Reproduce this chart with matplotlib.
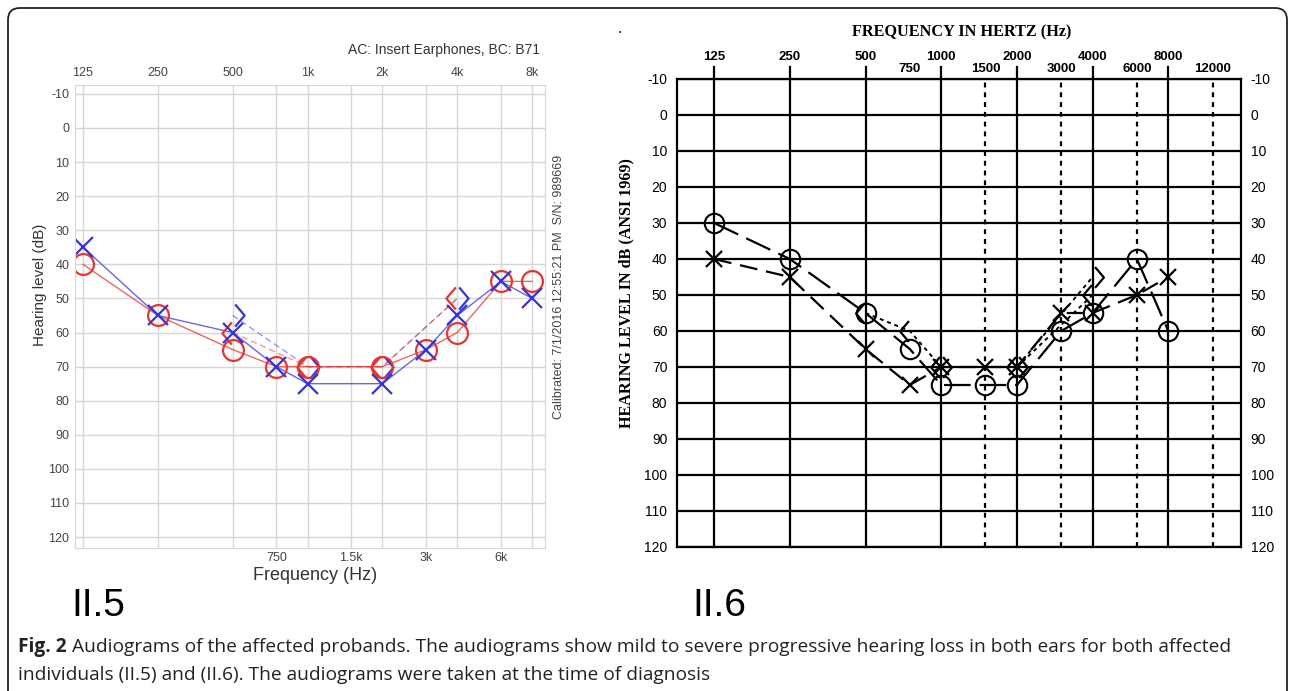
import matplotlib.pyplot as plt
from matplotlib.patches import FancyBboxPatch
from matplotlib.path import Path
from matplotlib.ticker import NullLocator

plt.rcParams["font.family"] = ["Liberation Sans", "DejaVu Sans"]
plt.rcParams["axes.unicode_minus"] = False

W, H = 1290, 691

# II.5 audiogram (left panel)
freqs_a = [125, 250, 500, 750, 1000, 2000, 3000, 4000, 6000, 8000]
left_ac_a = [35, 55, 60, 70, 75, 75, 65, 55, 45, 50]
right_ac_a = [40, 55, 65, 70, 70, 70, 65, 60, 45, 45]
bc_freqs_a = [500, 1000, 2000, 4000]
left_bc_a = [55, 70, 70, 50]
right_bc_a = [60, 70, 70, 50]
octaves_a = [125, 250, 500, 1000, 2000, 4000, 8000]
octave_labels_a = ["125", "250", "500", "1k", "2k", "4k", "8k"]
halves_a = [750, 1500, 3000, 6000]
half_labels_a = ["750", "1.5k", "3k", "6k"]

# II.6 audiogram (right panel)
freqs_b = [125, 250, 500, 750, 1000, 1500, 2000, 3000, 4000, 6000, 8000]
right_ac_b = [30, 40, 55, 65, 75, 75, 75, 60, 55, 40, 60]
left_ac_b = [40, 45, 65, 75, 70, 70, 70, 55, 55, 50, 45]
right_bc_freqs_b = [500, 750, 1000, 2000, 4000]
right_bc_b = [55, 60, 70, 70, 50]
left_bc_freqs_b = [1000, 2000, 4000]
left_bc_b = [70, 70, 45]
octaves_b = [125, 250, 500, 1000, 2000, 4000, 8000]
octave_labels_b = ["125", "250", "500", "1000", "2000", "4000", "8000"]
halves_b = [750, 1500, 3000, 6000, 12000]
half_labels_b = ["750", "1500", "3000", "6000", "12000"]
dotted_b = [1500, 3000, 6000, 12000]

levels = list(range(-10, 130, 10))

BLUE = "#3434d8"
RED = "#e6352e"

# bone conduction brackets, drawn beside the frequency line
bc_right = Path([(-0.15, 1), (-1, 0), (-0.15, -1)], [Path.MOVETO, Path.LINETO, Path.LINETO])
bc_left = Path([(0.15, 1), (1, 0), (0.15, -1)], [Path.MOVETO, Path.LINETO, Path.LINETO])


def box(x0, y0, x1, y1):
    return [x0 / W, 1 - y1 / H, (x1 - x0) / W, (y1 - y0) / H]


fig = plt.figure(figsize=(W / 100, H / 100), dpi=100)
fig.patch.set_facecolor("white")

bg = fig.add_axes([0, 0, 1, 1], zorder=-1)
bg.set_xlim(0, W)
bg.set_ylim(H, 0)
bg.axis("off")
bg.add_patch(FancyBboxPatch((8, 8), 1279, 700, boxstyle="round,pad=0,rounding_size=12",
                            fc="white", ec="#222222", lw=1.3, clip_on=False))

# ---------------- II.5 ----------------
ax = fig.add_axes(box(75, 85, 545, 548))
ax.set_xscale("log", base=2)
ax.set_xlim(116.1, 9014)
ax.set_ylim(123.2, -12.6)
ax.set_xticks(octaves_a, octave_labels_a)
ax.set_xticks(halves_a, minor=True)
ax.set_xticklabels([], minor=True)
ax.set_yticks(levels)
ax.tick_params(axis="x", which="both", top=True, bottom=False, labeltop=True, labelbottom=False,
               length=0, pad=4, labelsize=9, labelcolor="#444444")
ax.tick_params(axis="y", length=0, pad=4, labelsize=9, labelcolor="#444444")
ax.grid(True, which="both", color="#d6d6d6", lw=1)
for s in ax.spines.values():
    s.set_color("#d6d6d6")
sec = ax.secondary_xaxis("bottom")
sec.set_xticks(halves_a, half_labels_a)
sec.xaxis.set_minor_locator(NullLocator())
sec.tick_params(which="both", length=0, pad=3, labelsize=9, labelcolor="#444444")
sec.spines["bottom"].set_visible(False)

ax.plot(bc_freqs_a, left_bc_a, color=BLUE, lw=0.9, ls=(0, (5, 3)), alpha=0.55)
ax.plot(bc_freqs_a, right_bc_a, color=RED, lw=0.9, ls=(0, (5, 3)), alpha=0.55)
ax.plot(freqs_a, right_ac_a, color=RED, lw=1.0, alpha=0.75)
ax.plot(freqs_a, left_ac_a, color=BLUE, lw=1.0, alpha=0.75)
ax.plot(bc_freqs_a, left_bc_a, ls="none", marker=bc_left, ms=16, mec=BLUE, mfc="none", mew=1.6)
ax.plot(bc_freqs_a, right_bc_a, ls="none", marker=bc_right, ms=16, mec=RED, mfc="none", mew=1.6)
ax.plot(freqs_a, right_ac_a, ls="none", marker="o", ms=15, mec=RED, mfc="none", mew=1.6)
ax.plot(freqs_a, left_ac_a, ls="none", marker="x", ms=15, mec=BLUE, mew=1.6)

bg.text(540, 50, "AC: Insert Earphones, BC: B71", ha="right", va="center", fontsize=10,
        color="#333333")
bg.text(40, 285, "Hearing level (dB)", rotation=90, ha="center", va="center", fontsize=11,
        color="#333333")
bg.text(315, 576, "Frequency (Hz)", ha="center", va="center", fontsize=13, color="#333333")
bg.text(559, 287, "Calibrated: 7/1/2016 12:55:21 PM  S/N: 989669", rotation=90, ha="center",
        va="center", fontsize=9, color="#444444")
bg.text(71, 606, "II.5", ha="left", va="center", fontsize=28)

# ---------------- II.6 ----------------
bx = fig.add_axes(box(677, 79, 1241, 547))
bx.set_xscale("log", base=2)
bx.set_xlim(89.0, 15565)
bx.set_ylim(120, -10)
bx.set_yticks(levels)
bx.set_xticks(octaves_b, octave_labels_b)
bx.set_xticks(halves_b, half_labels_b, minor=True)
bx.tick_params(axis="x", which="both", top=True, bottom=False, labeltop=True, labelbottom=False,
               length=0, labelsize=9.5)
bx.tick_params(axis="x", which="major", pad=11.5)
bx.tick_params(axis="x", which="minor", pad=3)
for lab in bx.get_xticklabels(which="both"):
    lab.set_fontweight("bold")
bx.tick_params(axis="y", left=True, right=True, labelleft=True, labelright=True, length=0,
               pad=7, labelsize=10)
for s in bx.spines.values():
    s.set_linewidth(1.6)
for lv in levels:
    bx.axhline(lv, color="black", lw=1.6, zorder=1)
for f in octaves_b:
    bx.axvline(f, ymin=0, ymax=1.026, color="black", lw=1.6, clip_on=False, zorder=1)
for f in dotted_b:
    bx.axvline(f, color="black", lw=1.6, ls=(0, (2.2, 2.2)), zorder=1)

bx.plot(freqs_b, right_ac_b, color="black", lw=1.6, ls=(0, (12, 4)), zorder=3)
bx.plot(freqs_b, left_ac_b, color="black", lw=1.6, ls=(0, (8, 4)), zorder=3)
bx.plot(right_bc_freqs_b, right_bc_b, color="black", lw=1.4, ls=(0, (2, 2)), zorder=3)
bx.plot(left_bc_freqs_b, left_bc_b, color="black", lw=1.4, ls=(0, (2, 2)), zorder=3)
bx.plot(freqs_b, right_ac_b, ls="none", marker="o", ms=14, mec="black", mfc="none", mew=1.5, zorder=4)
bx.plot(freqs_b, left_ac_b, ls="none", marker="x", ms=12, mec="black", mew=1.6, zorder=4)
bx.plot(right_bc_freqs_b, right_bc_b, ls="none", marker=bc_right, ms=15, mec="black", mfc="none",
        mew=1.6, zorder=4)
bx.plot(left_bc_freqs_b, left_bc_b, ls="none", marker=bc_left, ms=15, mec="black", mfc="none",
        mew=1.6, zorder=4)

bg.text(962, 32, "FREQUENCY IN HERTZ (Hz)", ha="center", va="center", fontsize=11.7,
        weight="bold", family="Liberation Serif")
bg.text(626, 293, "HEARING LEVEL IN dB (ANSI 1969)", rotation=90, ha="center", va="center",
        fontsize=11.6, weight="bold", family="Liberation Serif")
bg.text(620, 32, "\u2022", ha="center", va="center", fontsize=5)
bg.text(692, 606, "II.6", ha="left", va="center", fontsize=28)

# ---------------- caption ----------------
fig.canvas.draw()
r = fig.canvas.get_renderer()
fig_lbl = bg.text(18, 647, "Fig. 2", ha="left", va="center", fontsize=13.8, weight="bold",
                  family="Open Sans", color="#222222")
wpx = fig_lbl.get_window_extent(r).width
bg.text(18 + wpx + 5, 647,
        "Audiograms of the affected probands. The audiograms show mild to severe progressive "
        "hearing loss in both ears for both affected",
        ha="left", va="center", fontsize=13.8, family="Open Sans", color="#222222")
bg.text(18, 675, "individuals (II.5) and (II.6). The audiograms were taken at the time of diagnosis",
        ha="left", va="center", fontsize=13.8, family="Open Sans", color="#222222")

fig.savefig("out.png", dpi=100, facecolor="white")
